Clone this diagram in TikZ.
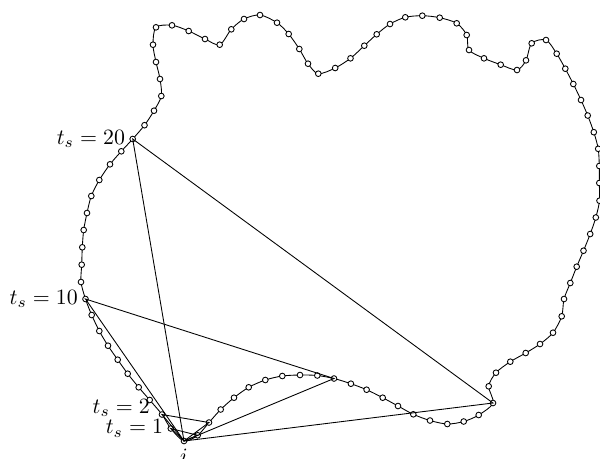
\documentclass[tikz,border=0pt]{standalone}
\usepackage{amsmath}
\usepackage{tikz}

\begin{document}
\begin{tikzpicture}[x=0.458pt,y=-0.458pt]
        \useasboundingbox (0,0) rectangle (600,458);
        % point i and its neighbours t_s steps away on either side
        \coordinate (i) at (184,441);
        \coordinate (r1) at (197.7,435.3);
        \coordinate (r2) at (209,422.5);
        \coordinate (r10) at (334,378.5);
        \coordinate (r20) at (493,403);
        \coordinate (l1) at (170.8,428.5);
        \coordinate (l2) at (162,414.5);
        \coordinate (l10) at (85.5,299);
        \coordinate (l20) at (132.7,139);
        % sampled contour
        \draw[thin] plot[smooth cycle, mark=*, mark size=1.3pt, mark options={fill=white}] coordinates {
            (i) (r1) (r2) (220.7,409.5) (234,397.7) (248.7,387.3) (265.3,380) (282.3,376)
            (300,375) (317.3,375.5) (r10) (350.9,383.7) (366.6,389.7) (382.7,397.7)
            (398,406) (413.3,414.3) (430,420.5) (447.3,424) (463.7,421.5) (478.7,415)
            (r20) (488.7,386.3) (496,372.7) (510.3,361.7) (525.7,353) (540,344) (553,332.7)
            (561.7,316.3) (564,299) (570.3,283) (576.7,266.7) (583.5,250.7) (590.2,234)
            (595.8,217.5) (599.5,200.7) (599.3,183) (599.3,166) (598.2,148.8) (593.8,132.2)
            (587.7,115.5) (581,100) (573.3,84) (565.3,68.7) (556.7,53.7) (546,40)
            (531.7,43.3) (526,60.3) (517,70) (500.7,64.7) (484,58.3) (469,50) (466.7,35)
            (456.7,23.3) (439.7,17.7) (422.3,15.7) (405.3,17.3) (390,24) (376.7,34.3)
            (364.3,45.7) (350.5,58.3) (335.2,68) (318.3,73.7) (308,63.7) (299.3,49)
            (288.7,34) (277,22.7) (260,15) (244,19) (231.3,29.3) (219.7,44.7) (205,39)
            (188.7,31) (172,25.3) (156,27.3) (153,44.7) (156,62) (160,79) (161.3,96)
            (154,110.7) (144.5,125.2) (l20) (121.3,151.3) (110,164.3) (99.3,180) (91.3,196)
            (87,213) (83.7,230) (82.3,247.3) (81.7,264.7) (81,282) (l10) (91.7,315)
            (99.3,331) (108,345.7) (117.7,359.7) (127.7,373.7) (138.7,387.3) (149.7,400)
            (l2) (l1)};
        % triangles i, i-t_s, i+t_s
        \foreach \t in {1,2,10,20}
            \draw[thin] (l\t) -- (i) -- (r\t) -- cycle;
        % labels
        \node[left] (lab20) at (l20) {$t_s = 20$};
        \node[left] (lab10) at (l10) {$t_s = 10$};
        \node[left, xshift=-2pt, yshift=3pt] (lab2) at (l2) {$t_s = 2$};
        \node[left] (lab1) at (l1) {$t_s = 1$};
        \node[below] (labi) at (i) {$i$};
    \end{tikzpicture}
\end{document}
